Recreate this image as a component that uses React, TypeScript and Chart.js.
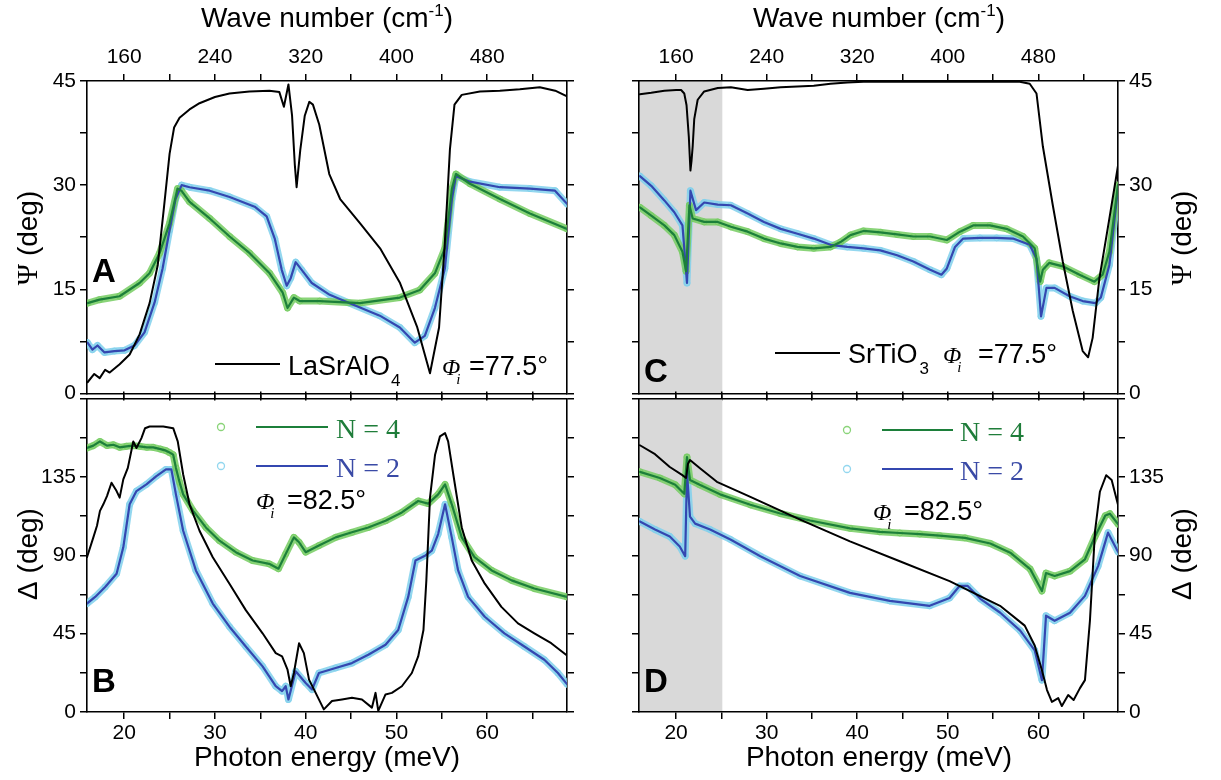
import React, { useEffect, useRef } from 'react';
import { Chart, registerables } from 'chart.js';

Chart.register(...registerables);

const SANS = '"Liberation Sans", Arial, Helvetica, sans-serif';
const SERIF = '"Liberation Serif", "Times New Roman", serif';

// ---- axes ----
const E_MIN = 15.9;
const E_MAX = 68.8;
const X_TICKS = [20, 25, 30, 35, 40, 45, 50, 55, 60, 65];
const X_LABELS: Record<number, string> = { 20: '20', 30: '30', 40: '40', 50: '50', 60: '60' };
const WN_LABELS: Record<number, string> = { 20: '160', 30: '240', 40: '320', 50: '400', 60: '480' };
const PSI_TICKS = [0, 7.5, 15, 22.5, 30, 37.5, 45];
const PSI_LABELS = [0, 15, 30, 45];
const DELTA_TICKS = [0, 22.5, 45, 67.5, 90, 112.5, 135, 157.5, 180];
const DELTA_LABELS = [0, 45, 90, 135];
const SHADE_END = 25.1;

// ---- Panel A: LaSrAlO4 / superlattices, Psi ----
const A_BLACK_E = [15.96, 16.7, 17.3, 17.9, 18.4, 19.5, 20.6, 21.7, 22.8, 23.7, 24.4, 25.0, 25.5, 26.1, 27.2, 28.3, 30.0, 31.6, 33.8, 36.0, 37.1, 37.6, 38.1, 38.5, 38.8, 39.0, 39.4, 39.9, 40.4, 40.8, 41.5, 42.6, 43.8, 46.0, 48.2, 50.4, 52.3, 53.7, 54.7, 55.3, 55.9, 56.4, 57.2, 59.2, 61.4, 63.6, 65.8, 67.5, 68.8];
const A_BLACK_PSI = [1.6, 2.8, 2.2, 3.4, 3.0, 4.2, 5.6, 8.5, 13.0, 18.5, 27.0, 34.5, 38.3, 39.7, 40.9, 41.8, 42.7, 43.2, 43.5, 43.6, 43.4, 41.3, 44.5, 40.0, 33.0, 29.7, 35.0, 40.0, 42.0, 41.6, 38.7, 31.6, 28.0, 24.5, 20.9, 15.9, 9.5, 2.9, 9.5, 20.9, 35.2, 41.6, 43.0, 43.5, 43.6, 43.8, 44.1, 43.6, 42.8];
const A_N4_E = [15.96, 17.28, 19.49, 21.69, 22.79, 23.9, 25.0, 25.88, 26.3, 27.21, 29.42, 31.62, 33.83, 36.03, 37.47, 38.0, 38.7, 39.34, 41.55, 45.97, 50.38, 52.58, 54.24, 55.34, 56.12, 56.56, 58.1, 61.41, 64.72, 68.8];
const A_N4_PSI = [13.0, 13.5, 14.0, 15.9, 17.3, 20.2, 24.5, 29.5, 29.2, 27.6, 25.2, 22.6, 20.2, 17.3, 14.5, 12.3, 13.8, 13.3, 13.3, 13.0, 13.8, 14.9, 17.3, 20.9, 29.5, 31.6, 30.2, 28.0, 25.9, 23.7];
const A_N2_E = [15.96, 16.5, 17.06, 17.83, 18.93, 20.04, 21.14, 22.24, 23.35, 24.23, 25.0, 25.66, 26.33, 27.21, 29.42, 31.62, 34.38, 35.7, 36.59, 37.36, 37.91, 38.35, 38.9, 39.56, 40.67, 42.65, 44.86, 48.17, 50.38, 52.03, 53.13, 54.24, 55.34, 56.12, 56.56, 58.1, 61.41, 64.72, 67.48, 68.8];
const A_N2_PSI = [7.3, 6.3, 6.9, 5.9, 6.1, 6.2, 6.9, 8.8, 13.1, 18.0, 23.5, 28.0, 30.0, 29.7, 29.2, 28.3, 26.9, 25.5, 22.3, 17.8, 15.5, 16.6, 18.9, 17.8, 15.9, 14.2, 13.0, 11.2, 9.5, 7.3, 8.3, 12.3, 18.0, 28.0, 31.3, 30.5, 29.7, 29.5, 29.2, 27.3];

// ---- Panel B: Delta ----
const B_BLACK_E = [15.9, 16.6, 17.0, 17.33, 17.7, 18.1, 18.6, 19.16, 19.5, 19.9, 20.4, 21.0, 21.35, 21.9, 22.3, 22.8, 24.3, 25.4, 25.9, 26.5, 27.2, 28.3, 29.76, 31.6, 33.4, 35.25, 36.7, 37.4, 38.0, 38.35, 38.7, 39.27, 39.8, 40.37, 41.1, 42.0, 42.9, 44.0, 45.1, 46.2, 47.3, 47.7, 48.0, 48.8, 49.5, 50.6, 51.7, 52.4, 52.98, 53.3, 53.7, 54.26, 54.8, 55.36, 55.7, 56.27, 57.2, 58.3, 59.74, 61.57, 63.4, 65.2, 67.06, 68.8];
const B_BLACK_D = [88.9, 100.3, 107, 115.5, 119.3, 124, 131.7, 126.9, 123.1, 133.6, 140.2, 155.4, 151.6, 157.3, 163.0, 164.0, 164.0, 163.0, 155.4, 136.4, 119.3, 104.1, 88.9, 73.7, 58.5, 45.2, 33.8, 31.9, 24.3, 14.8, 22.4, 39.5, 33.8, 18.6, 11.0, 1.5, 6.3, 7.2, 8.2, 7.2, 2.5, 11.0, 0.6, 10.1, 11.0, 14.8, 22.4, 31.9, 47.1, 75.6, 123.1, 147.8, 158.3, 160.2, 155.4, 136.4, 106.0, 87.0, 73.7, 60.4, 50.9, 45.2, 39.5, 32.5];
const B_N4_E = [15.9, 16.6, 17.33, 18.1, 18.8, 19.5, 20.26, 21.0, 21.7, 22.5, 23.2, 24.0, 24.6, 25.0, 25.4, 25.7, 26.1, 26.5, 27.6, 29.0, 30.5, 32.3, 34.15, 35.98, 37.0, 37.8, 38.7, 39.27, 40.0, 41.46, 43.3, 45.1, 46.9, 48.8, 50.6, 52.4, 53.5, 54.6, 55.36, 56.1, 57.2, 58.6, 60.5, 62.7, 65.2, 68.8];
const B_N4_D = [151.6, 153, 155.4, 153, 153.5, 152, 152.6, 153, 152.6, 152, 152.0, 151, 150.1, 149, 147.8, 140.2, 132, 125.0, 115.5, 106.0, 98.4, 91.8, 87.0, 85.1, 82.3, 90.8, 100.3, 97.5, 91.8, 95.6, 100.3, 103.2, 106.0, 109.8, 114.6, 121.2, 119.7, 125.0, 130.7, 119.3, 100.3, 88.9, 81.3, 75.6, 70.9, 66.1];
const B_N2_E = [15.9, 16.8, 17.9, 19.16, 19.9, 20.6, 21.35, 22.45, 23.55, 24.6, 25.2, 25.7, 26.5, 27.9, 29.76, 31.6, 33.4, 35.25, 36.7, 37.4, 37.8, 38.1, 38.9, 40.0, 40.7, 41.46, 43.3, 45.1, 46.9, 48.8, 50.2, 51.3, 52.1, 53.2, 53.9, 54.6, 55.36, 56.1, 56.8, 57.9, 59.74, 61.9, 64.1, 66.3, 67.8, 68.8];
const B_N2_D = [62.3, 66.1, 71.8, 79.4, 94.6, 119.3, 126.9, 130.7, 135.5, 139.3, 139.3, 125.0, 104.1, 81.3, 62.3, 49.0, 37.6, 26.2, 14.8, 12.0, 14.8, 7.2, 23.4, 16.7, 12.9, 22.4, 25.3, 28.1, 32.9, 38.6, 47.1, 66.1, 87.0, 89.9, 92.7, 102.2, 119.3, 100.3, 81.3, 66.1, 54.7, 45.2, 37.6, 30.0, 22.4, 16.0];

// ---- Panel C: SrTiO3 / superlattices, Psi ----
const C_BLACK_E = [16.0, 17.25, 18.7, 20.0, 20.55, 20.9, 21.15, 21.4, 21.58, 21.7, 21.83, 22.0, 22.38, 23.1, 24.6, 26.05, 27.9, 29.7, 31.55, 33.4, 35.2, 37.05, 38.9, 40.7, 44.4, 48.05, 51.7, 55.4, 57.95, 59.05, 59.8, 60.5, 61.6, 62.7, 63.8, 64.9, 65.5, 66.0, 66.75, 67.85, 68.8];
const C_BLACK_PSI = [43.1, 43.3, 43.6, 43.7, 43.7, 43.2, 41.5, 37.0, 32.1, 33.5, 35.6, 39.5, 42.3, 43.5, 44.0, 44.1, 43.7, 43.9, 44.1, 44.2, 44.3, 44.6, 44.8, 44.9, 44.9, 44.9, 44.9, 44.9, 44.9, 44.6, 43.2, 35.6, 27.1, 19.0, 11.9, 6.1, 5.2, 8.0, 16.6, 25.2, 32.8];
const C_N4_E = [16.0, 17.25, 18.7, 19.8, 20.7, 21.1, 21.47, 21.83, 23.1, 24.6, 26.05, 27.9, 29.7, 31.55, 33.4, 35.2, 37.05, 38.15, 39.25, 40.7, 42.55, 44.4, 46.2, 48.05, 49.9, 51.35, 52.8, 54.65, 56.5, 58.3, 59.6, 60.2, 60.5, 61.2, 62.7, 64.55, 66.2, 67.1, 67.85, 68.8];
const C_N4_PSI = [26.8, 25.6, 24.2, 22.8, 20.4, 17.6, 27.1, 25.2, 24.7, 24.7, 24.0, 23.3, 22.3, 21.6, 21.1, 20.9, 21.1, 21.8, 22.8, 23.4, 23.2, 22.9, 22.6, 22.6, 22.1, 23.3, 24.2, 24.2, 23.7, 22.6, 20.9, 16.1, 17.8, 18.8, 18.3, 17.1, 16.1, 17.1, 20.4, 30.0];
const C_N2_E = [16.0, 17.25, 18.7, 19.8, 20.7, 21.2, 21.58, 22.2, 23.1, 24.6, 26.05, 27.9, 29.7, 31.55, 33.4, 35.2, 37.05, 38.9, 40.7, 42.55, 44.4, 46.2, 48.05, 49.3, 49.9, 50.8, 51.7, 53.55, 55.4, 57.2, 59.05, 59.8, 60.3, 60.9, 61.8, 63.45, 64.9, 66.3, 66.9, 67.85, 68.8];
const C_N2_PSI = [31.3, 29.9, 27.8, 26.1, 24.2, 15.9, 29.2, 26.4, 27.5, 27.2, 27.1, 25.9, 24.7, 23.7, 23.0, 22.3, 21.4, 21.1, 20.9, 20.6, 19.9, 19.0, 17.8, 17.1, 18.0, 21.1, 22.3, 22.4, 22.4, 22.3, 21.4, 19.4, 11.1, 15.2, 15.2, 14.0, 13.3, 13.0, 13.8, 18.5, 29.5];

// ---- Panel D: Delta ----
const D_BLACK_E = [16.0, 17.67, 19.3, 20.65, 21.1, 21.3, 21.53, 22.6, 24.5, 28.2, 33.7, 39.2, 44.7, 50.2, 55.77, 58.5, 59.6, 60.4, 60.96, 61.5, 62.2, 62.6, 63.3, 63.9, 64.6, 65.15, 65.7, 66.26, 66.8, 67.5, 68.1, 68.8];
const D_BLACK_D = [153.2, 148.1, 140.7, 136.2, 134.4, 142.4, 144.7, 140.1, 132.2, 123.6, 110.5, 98.0, 86.6, 75.2, 61.0, 49.6, 38.2, 24.0, 12.6, 5.8, 8.0, 3.4, 9.7, 6.9, 13.7, 18.3, 52.4, 103.7, 126.5, 136.0, 133.3, 119.0];
const D_N4_E = [16.0, 18.2, 19.9, 20.9, 21.2, 21.53, 22.6, 24.85, 28.2, 31.5, 34.8, 39.2, 42.5, 44.7, 46.9, 49.1, 51.9, 54.7, 56.9, 59.1, 60.4, 60.85, 61.8, 63.5, 65.15, 66.26, 67.4, 67.9, 68.8];
const D_N4_D = [137.9, 134.4, 130.5, 125.3, 146.4, 133.3, 130.5, 125.0, 119.0, 114.0, 110.0, 105.5, 103.5, 102.8, 102.2, 101.3, 100.0, 96.8, 91.5, 82.1, 69.5, 79.8, 78.1, 80.9, 87.7, 100.8, 112.8, 113.9, 108.0];
const D_N2_E = [16.0, 17.67, 19.3, 20.4, 21.0, 21.2, 21.53, 22.1, 23.75, 26.0, 29.3, 33.7, 39.2, 43.6, 48.0, 50.2, 51.3, 52.2, 53.6, 55.8, 58.0, 59.6, 60.4, 60.85, 61.8, 63.5, 65.15, 66.6, 67.7, 68.8];
const D_N2_D = [109.4, 104.8, 100.8, 95.1, 89.5, 137.9, 112.2, 108.2, 104.8, 99.1, 89.5, 78.1, 68.4, 63.8, 61.0, 65.5, 72.4, 72.4, 65.0, 57.0, 46.7, 35.4, 18.3, 55.3, 52.4, 57.0, 66.7, 83.8, 103.0, 92.0];

// ---- colours ----
const GREEN_LINE = '#1c7f3a';
const GREEN_MARK = 'rgba(118,204,98,0.85)';
const BLUE_LINE = '#3447b0';
const BLUE_MARK = 'rgba(128,208,236,0.85)';
const GREEN_TEXT = '#1f7d3a';
const BLUE_TEXT = '#3a4aa6';
const SHADE = '#d9d9d9';

type Geo = { cl: number; ct: number; cw: number; ch: number; l: number; t: number; r: number; b: number };

const pts = (xs: number[], ys: number[]) => xs.map((x, i) => ({ x, y: ys[i] }));

function seriesDatasets(bx: number[], by: number[], gx: number[], gy: number[], ux: number[], uy: number[]) {
  const band = (data: any, color: string) => ({
    data, borderColor: color, borderWidth: 7, pointRadius: 3, pointBorderWidth: 1,
    pointBorderColor: color, pointBackgroundColor: 'rgba(255,255,255,0)', pointStyle: 'circle', order: 3, fill: false,
  });
  const line = (data: any, color: string, w: number, order: number) => ({
    data, borderColor: color, borderWidth: w, pointRadius: 0, order, fill: false,
  });
  return [
    line(pts(bx, by), '#000', 2, 0),
    line(pts(gx, gy), GREEN_LINE, 2.2, 1),
    line(pts(ux, uy), BLUE_LINE, 2.2, 1),
    band(pts(gx, gy), GREEN_MARK),
    band(pts(ux, uy), BLUE_MARK),
  ];
}

const GRID = { display: true, drawOnChartArea: false, drawTicks: true, tickLength: 7, tickWidth: 1.5, tickColor: '#000', color: '#000', lineWidth: 1.5 };
const BORDER = { display: true, color: '#000', width: 1.6 };

function xAxis(position: 'top' | 'bottom', labels: Record<number, string> | null, size: number) {
  return {
    type: 'linear', position, min: E_MIN, max: E_MAX, bounds: 'data',
    afterBuildTicks: (s: any) => { s.ticks = X_TICKS.map((v) => ({ value: v })); },
    afterFit: (s: any) => { s.height = size; },
    ticks: {
      autoSkip: false, maxRotation: 0, minRotation: 0, padding: position === 'top' ? 4 : 2,
      color: '#000', font: { family: SANS, size: 21 },
      callback: (v: any) => (labels && labels[v] !== undefined ? labels[v] : ''),
    },
    grid: GRID, border: BORDER,
  };
}

function yAxis(position: 'left' | 'right', kind: 'psi' | 'delta', show: boolean, size: number) {
  const tks = kind === 'psi' ? PSI_TICKS : DELTA_TICKS;
  const lbl = kind === 'psi' ? PSI_LABELS : DELTA_LABELS;
  return {
    type: 'linear', position, min: 0, max: kind === 'psi' ? 45 : 180, bounds: 'data',
    afterBuildTicks: (s: any) => { s.ticks = tks.map((v) => ({ value: v })); },
    afterFit: (s: any) => { s.width = size; },
    ticks: {
      autoSkip: false, padding: 4, color: '#000', font: { family: SANS, size: 21 },
      callback: (v: any) => (show && lbl.includes(Number(v)) ? String(v) : ''),
    },
    grid: GRID, border: BORDER,
  };
}

// ---- text helpers ----
function txt(ctx: CanvasRenderingContext2D, s: string, x: number, y: number, font: string, color = '#000') {
  ctx.font = font; ctx.fillStyle = color; ctx.textAlign = 'left'; ctx.textBaseline = 'alphabetic';
  ctx.fillText(s, x, y);
  return ctx.measureText(s).width;
}
function hline(ctx: CanvasRenderingContext2D, x1: number, x2: number, y: number, color: string, w: number) {
  ctx.beginPath(); ctx.moveTo(x1, y); ctx.lineTo(x2, y); ctx.strokeStyle = color; ctx.lineWidth = w; ctx.stroke();
}
function marker(ctx: CanvasRenderingContext2D, x: number, y: number, color: string) {
  ctx.beginPath(); ctx.arc(x, y, 3.5, 0, Math.PI * 2); ctx.strokeStyle = color; ctx.lineWidth = 1.3; ctx.stroke();
}
function waveTitle(ctx: CanvasRenderingContext2D, cx: number, base: number) {
  const f = `28px ${SANS}`, fs = `17px ${SANS}`;
  ctx.font = f; const w1 = ctx.measureText('Wave number (cm').width; const w3 = ctx.measureText(')').width;
  ctx.font = fs; const w2 = ctx.measureText('-1').width;
  const x0 = cx - (w1 + w2 + w3) / 2;
  txt(ctx, 'Wave number (cm', x0, base, f);
  txt(ctx, '-1', x0 + w1, base - 11, fs);
  txt(ctx, ')', x0 + w1 + w2, base, f);
}
function energyTitle(ctx: CanvasRenderingContext2D, cx: number, base: number) {
  const f = `28px ${SANS}`;
  ctx.font = f; const w = ctx.measureText('Photon energy (meV)').width;
  txt(ctx, 'Photon energy (meV)', cx - w / 2, base, f);
}
function vTitle(ctx: CanvasRenderingContext2D, sym: string, symFont: string, bx: number, cy: number) {
  const rest = ' (deg)';
  const rf = `28px ${SANS}`;
  ctx.save();
  ctx.translate(bx, cy);
  ctx.rotate(-Math.PI / 2);
  ctx.font = symFont; const w1 = ctx.measureText(sym).width;
  ctx.font = rf; const w2 = ctx.measureText(rest).width;
  const x0 = -(w1 + w2) / 2;
  txt(ctx, sym, x0, 0, symFont);
  txt(ctx, rest, x0 + w1, 0, rf);
  ctx.restore();
}
function letter(ctx: CanvasRenderingContext2D, s: string, x: number, y: number) {
  txt(ctx, s, x, y, `bold 33px ${SANS}`);
}
function phi(ctx: CanvasRenderingContext2D, x: number, base: number) {
  const w = txt(ctx, 'Φ', x, base, `italic 24px ${SERIF}`);
  txt(ctx, 'i', x + w - 4, base + 9, `italic 15px ${SERIF}`);
}

const SANS27 = `27px ${SANS}`;
const SUB = `17px ${SANS}`;
const NFONT = `28px ${SERIF}`;

function decorA(ctx: CanvasRenderingContext2D) {
  waveTitle(ctx, 327, 27);
  vTitle(ctx, 'Ψ', `29px ${SERIF}`, 37, 238);
  letter(ctx, 'A', 92, 282);
  hline(ctx, 215, 280, 364, '#000', 2);
  const w = txt(ctx, 'LaSrAlO', 288, 375, SANS27);
  txt(ctx, '4', 288 + w + 1, 386, SUB);
  phi(ctx, 442, 375);
  txt(ctx, '=77.5°', 469, 375, SANS27);
}
function decorB(ctx: CanvasRenderingContext2D) {
  energyTitle(ctx, 327, 766);
  vTitle(ctx, 'Δ', `28px ${SANS}`, 37, 554);
  letter(ctx, 'B', 92, 692);
  marker(ctx, 221, 427, GREEN_MARK);
  hline(ctx, 256, 328, 427, GREEN_LINE, 2);
  txt(ctx, 'N = 4', 336, 438, NFONT, GREEN_TEXT);
  marker(ctx, 221, 466, BLUE_MARK);
  hline(ctx, 256, 328, 466, BLUE_LINE, 2);
  txt(ctx, 'N = 2', 336, 477, NFONT, BLUE_TEXT);
  phi(ctx, 256, 509);
  txt(ctx, '=82.5°', 287, 509, SANS27);
}
function decorC(ctx: CanvasRenderingContext2D) {
  waveTitle(ctx, 879, 27);
  vTitle(ctx, 'Ψ', `29px ${SERIF}`, 1191, 238);
  letter(ctx, 'C', 644, 382);
  hline(ctx, 775, 840, 353, '#000', 2);
  const w = txt(ctx, 'SrTiO', 848, 363, SANS27);
  txt(ctx, '3', 848 + w + 2, 374, SUB);
  phi(ctx, 943, 363);
  txt(ctx, '=77.5°', 978, 363, SANS27);
}
function decorD(ctx: CanvasRenderingContext2D) {
  energyTitle(ctx, 879, 766);
  vTitle(ctx, 'Δ', `28px ${SANS}`, 1191, 554);
  letter(ctx, 'D', 644, 692);
  marker(ctx, 847, 430, GREEN_MARK);
  hline(ctx, 882, 953, 430, GREEN_LINE, 2);
  txt(ctx, 'N = 4', 960, 441, NFONT, GREEN_TEXT);
  marker(ctx, 847, 469, BLUE_MARK);
  hline(ctx, 882, 953, 469, BLUE_LINE, 2);
  txt(ctx, 'N = 2', 960, 480, NFONT, BLUE_TEXT);
  phi(ctx, 873, 520);
  txt(ctx, '=82.5°', 904, 520, SANS27);
}

type Spec = {
  geo: Geo;
  kind: 'psi' | 'delta';
  side: 'left' | 'right';
  top: boolean;
  shade: boolean;
  datasets: any[];
  decor: (ctx: CanvasRenderingContext2D) => void;
};

const SPECS: Spec[] = [
  {
    geo: { cl: 0, ct: 0, cw: 610, ch: 410, l: 87, t: 81, r: 567, b: 396 }, kind: 'psi', side: 'left', top: true, shade: false,
    datasets: seriesDatasets(A_BLACK_E, A_BLACK_PSI, A_N4_E, A_N4_PSI, A_N2_E, A_N2_PSI), decor: decorA,
  },
  {
    geo: { cl: 0, ct: 382, cw: 610, ch: 398, l: 87, t: 396, r: 567, b: 712 }, kind: 'delta', side: 'left', top: false, shade: false,
    datasets: seriesDatasets(B_BLACK_E, B_BLACK_D, B_N4_E, B_N4_D, B_N2_E, B_N2_D), decor: decorB,
  },
  {
    geo: { cl: 600, ct: 0, cw: 621, ch: 410, l: 639, t: 81, r: 1118, b: 396 }, kind: 'psi', side: 'right', top: true, shade: true,
    datasets: seriesDatasets(C_BLACK_E, C_BLACK_PSI, C_N4_E, C_N4_PSI, C_N2_E, C_N2_PSI), decor: decorC,
  },
  {
    geo: { cl: 600, ct: 382, cw: 621, ch: 398, l: 639, t: 396, r: 1118, b: 712 }, kind: 'delta', side: 'right', top: false, shade: true,
    datasets: seriesDatasets(D_BLACK_E, D_BLACK_D, D_N4_E, D_N4_D, D_N2_E, D_N2_D), decor: decorD,
  },
];

function buildChart(canvas: HTMLCanvasElement, spec: Spec) {
  const g = spec.geo;
  const yLeftW = g.l - g.cl;
  const yRightW = g.cl + g.cw - g.r;
  const xTopH = g.t - g.ct;
  const xBotH = g.ct + g.ch - g.b;
  const plugin = {
    id: 'decor',
    beforeDraw(chart: any) {
      if (!spec.shade) return;
      const ca = chart.chartArea;
      const xs = chart.scales.x.getPixelForValue(SHADE_END);
      const ctx = chart.ctx;
      ctx.save();
      ctx.fillStyle = SHADE;
      ctx.fillRect(ca.left, ca.top, xs - ca.left, ca.bottom - ca.top);
      ctx.restore();
    },
    afterDraw(chart: any) {
      const ctx = chart.ctx as CanvasRenderingContext2D;
      ctx.save();
      ctx.translate(-g.cl, -g.ct);
      spec.decor(ctx);
      ctx.restore();
    },
  };
  return new Chart(canvas, {
    type: 'line',
    data: { datasets: spec.datasets },
    options: {
      responsive: false,
      maintainAspectRatio: false,
      animation: false,
      events: [],
      layout: { padding: 0, autoPadding: false },
      elements: { line: { tension: 0, borderJoinStyle: 'round', borderCapStyle: 'round' }, point: { radius: 0 } },
      plugins: { legend: { display: false }, tooltip: { enabled: false }, title: { display: false } },
      scales: {
        x: xAxis('bottom', spec.top ? null : X_LABELS, xBotH),
        xTop: xAxis('top', spec.top ? WN_LABELS : null, xTopH),
        y: yAxis('left', spec.kind, spec.side === 'left', yLeftW),
        yRight: yAxis('right', spec.kind, spec.side === 'right', yRightW),
      },
    } as any,
    plugins: [plugin],
  } as any);
}

function Panel({ spec }: { spec: Spec }) {
  const ref = useRef<HTMLCanvasElement>(null);
  useEffect(() => {
    if (!ref.current) return;
    const chart = buildChart(ref.current, spec);
    return () => chart.destroy();
  }, [spec]);
  const g = spec.geo;
  return (
    <canvas
      ref={ref}
      width={g.cw}
      height={g.ch}
      style={{ position: 'absolute', left: g.cl, top: g.ct, width: g.cw, height: g.ch }}
    />
  );
}

export default function App() {
  return (
    <div style={{ position: 'absolute', left: 0, top: 0, width: 1221, height: 780, background: '#fff', overflow: 'hidden' }}>
      {SPECS.map((s, i) => (
        <Panel key={i} spec={s} />
      ))}
    </div>
  );
}
